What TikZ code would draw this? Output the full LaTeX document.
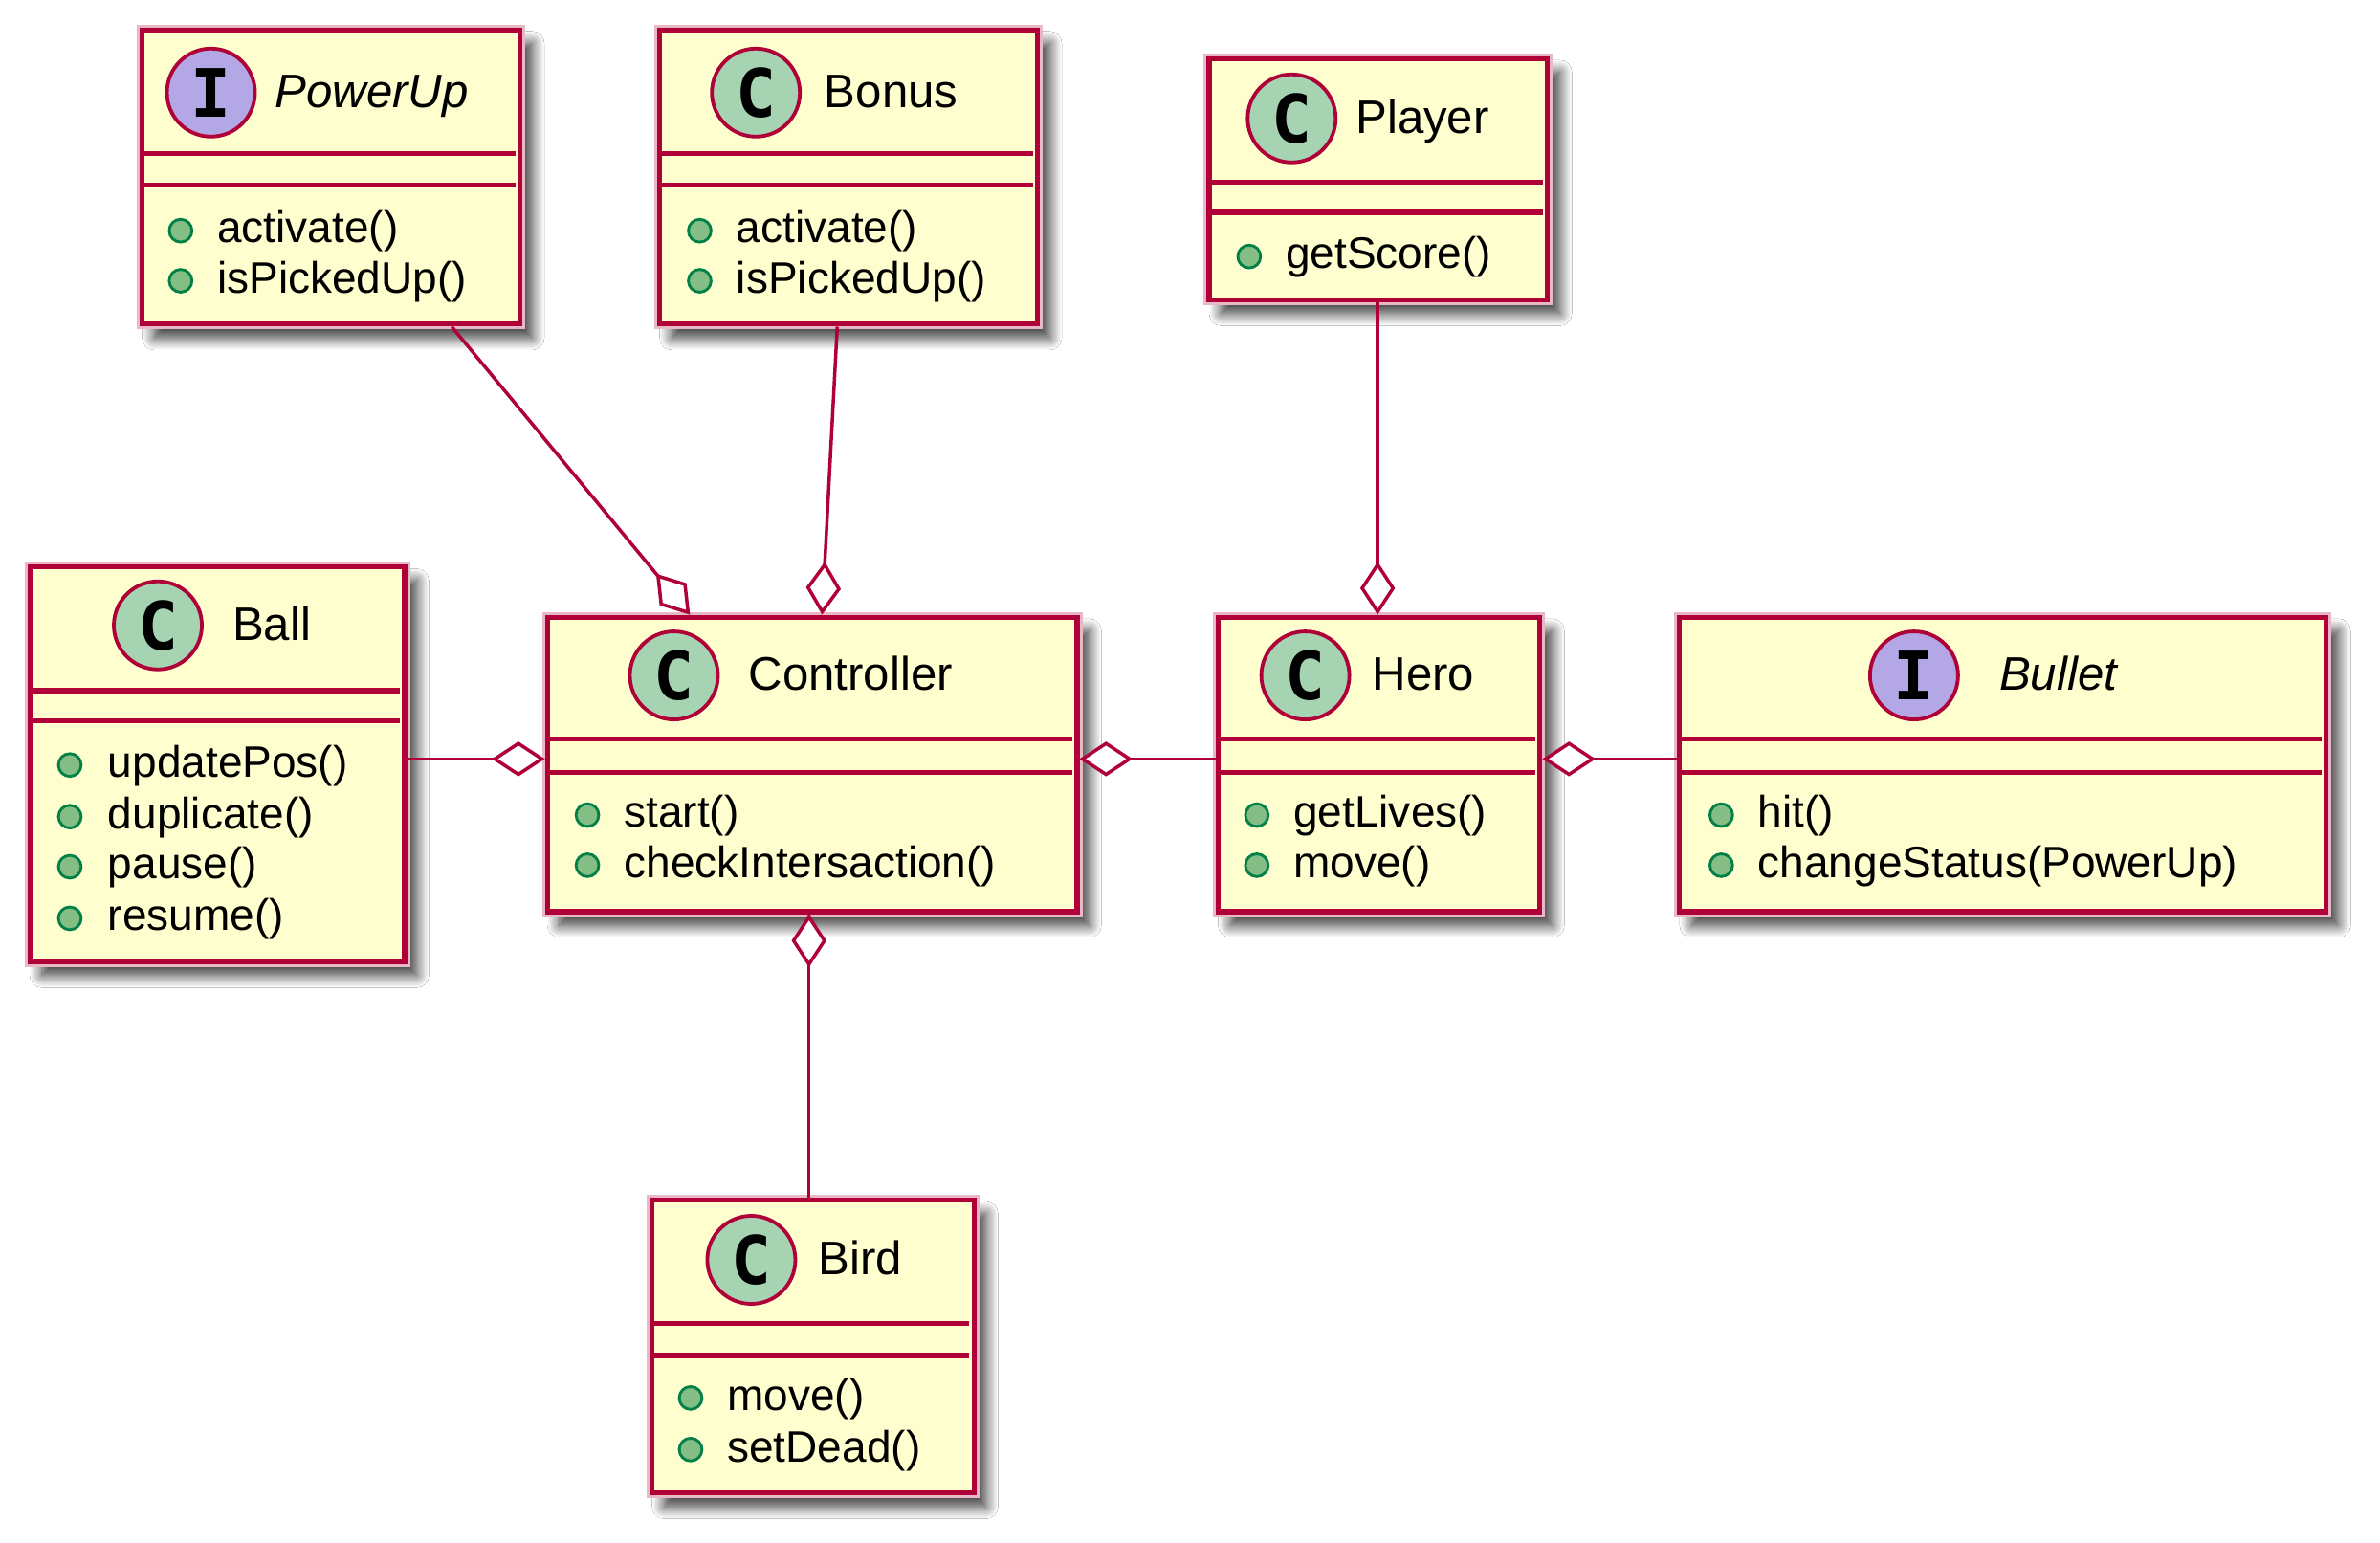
\documentclass[tikz,border=0pt]{standalone}
\usepackage{fontspec}
\setmainfont{Liberation Sans}
\newfontfamily\iconfont{DejaVu Sans Mono}
\usetikzlibrary{arrows.meta,shadows.blur}
\definecolor{umlred}{HTML}{B00038}
\definecolor{umlfill}{HTML}{FEFECE}
\definecolor{cgreen}{HTML}{A6D3B1}
\definecolor{ipurple}{HTML}{B4A7E5}
\definecolor{dotfill}{HTML}{84BE84}
\definecolor{dotline}{HTML}{038048}
\tikzset{
  box/.style={draw=umlred, fill=umlfill, line width=3.2pt, inner sep=0pt,
    blur shadow={shadow xshift=8pt, shadow yshift=-9pt, shadow blur steps=14, shadow blur radius=8pt, shadow opacity=80},
    preaction={draw=umlred!28, line width=7pt}},
  sepline/.style={draw=umlred, line width=3.4pt},
  ico/.style={circle, draw=umlred, line width=2.4pt, minimum size=58pt, inner sep=0pt},
  cico/.style={ico, fill=cgreen},
  iico/.style={ico, fill=ipurple},
  icotext/.style={font=\iconfont\bfseries\fontsize{44}{44}\selectfont},
  cname/.style={anchor=base west, inner sep=0pt, font=\fontsize{31}{31}\selectfont},
  iname/.style={cname, font=\fontsize{31}{31}\selectfont\itshape},
  mdot/.style={circle, draw=dotline, fill=dotfill, line width=1.8pt, minimum size=15pt, inner sep=0pt},
  mtext/.style={anchor=base west, inner sep=0pt, font=\fontsize{29}{29}\selectfont},
  agg/.style={draw=umlred, line width=2.2pt, -{Diamond[open, fill=white, length=35pt, width=23pt, line width=2.2pt]}},
}
\begin{document}
\begin{tikzpicture}[x=1pt,y=-1pt]
\useasboundingbox[fill=white] (0,0) rectangle (1568,1016.5);

% ---------- PowerUp ----------
\node[box, anchor=north west, minimum width=249pt, minimum height=194pt] (powerup) at (92,18) {};
\draw[sepline] (93.5,101) -- (339.5,101);
\draw[sepline] (93.5,122) -- (339.5,122);
\node[iico] (powerupi) at (139,61) {};
\node[icotext] at (powerupi) {I};
\node[iname] (powerupn) at (181,71) {PowerUp};
\node[mdot] (pu1) at (119,152) {};
\node[mtext] at (143,160) {activate()};
\node[mdot] (pu2) at (119,185) {};
\node[mtext] at (143,193) {isPickedUp()};

% ---------- Bonus ----------
\node[box, anchor=north west, minimum width=249pt, minimum height=194pt] (bonus) at (433,18) {};
\draw[sepline] (434.5,101) -- (680.5,101);
\draw[sepline] (434.5,122) -- (680.5,122);
\node[cico] (bonusi) at (498,61) {};
\node[icotext] at (bonusi) {C};
\node[cname] (bonusn) at (543,71) {Bonus};
\node[mdot] (bo1) at (461,152) {};
\node[mtext] at (485,160) {activate()};
\node[mdot] (bo2) at (461,185) {};
\node[mtext] at (485,193) {isPickedUp()};

% ---------- Player ----------
\node[box, anchor=north west, minimum width=223pt, minimum height=159pt] (player) at (795,37) {};
\draw[sepline] (796.5,120) -- (1016.5,120);
\draw[sepline] (796.5,140) -- (1016.5,140);
\node[cico] (playeri) at (851,78) {};
\node[icotext] at (playeri) {C};
\node[cname] (playern) at (893,88) {Player};
\node[mdot] (pl1) at (823,169) {};
\node[mtext] at (847,177) {getScore()};

% ---------- Ball ----------
\node[box, anchor=north west, minimum width=247pt, minimum height=260pt] (ball) at (18,372) {};
\draw[sepline] (19.5,455) -- (263.5,455);
\draw[sepline] (19.5,475) -- (263.5,475);
\node[cico] (balli) at (104,412) {};
\node[icotext] at (balli) {C};
\node[cname] (balln) at (153,422) {Ball};
\node[mdot] (ba1) at (46,504) {};
\node[mtext] at (71,512) {updatePos()};
\node[mdot] (ba2) at (46,538) {};
\node[mtext] at (71,546) {duplicate()};
\node[mdot] (ba3) at (46,571) {};
\node[mtext] at (71,579) {pause()};
\node[mdot] (ba4) at (46,605) {};
\node[mtext] at (71,613) {resume()};

% ---------- Controller ----------
\node[box, anchor=north west, minimum width=349pt, minimum height=194pt] (ctrl) at (359,405) {};
\draw[sepline] (360.5,487) -- (706.5,487);
\draw[sepline] (360.5,509) -- (706.5,509);
\node[cico] (ctrli) at (444,445) {};
\node[icotext] at (ctrli) {C};
\node[cname] (ctrln) at (493,455) {Controller};
\node[mdot] (ct1) at (387,537) {};
\node[mtext] at (411,545) {start()};
\node[mdot] (ct2) at (387,570) {};
\node[mtext] at (411,578) {checkIntersaction()};

% ---------- Hero ----------
\node[box, anchor=north west, minimum width=212pt, minimum height=194pt] (hero) at (801,405) {};
\draw[sepline] (802.5,487) -- (1011.5,487);
\draw[sepline] (802.5,509) -- (1011.5,509);
\node[cico] (heroi) at (860,445) {};
\node[icotext] at (heroi) {C};
\node[cname] (heron) at (904,455) {Hero};
\node[mdot] (he1) at (828,537) {};
\node[mtext] at (852,545) {getLives()};
\node[mdot] (he2) at (828,570) {};
\node[mtext] at (852,578) {move()};

% ---------- Bullet ----------
\node[box, anchor=north west, minimum width=426pt, minimum height=194pt] (bullet) at (1105,405) {};
\draw[sepline] (1106.5,487) -- (1529.5,487);
\draw[sepline] (1106.5,509) -- (1529.5,509);
\node[iico] (bulleti) at (1261,445) {};
\node[icotext] at (bulleti) {I};
\node[iname] (bulletn) at (1317,455) {Bullet};
\node[mdot] (bu1) at (1134,537) {};
\node[mtext] at (1158,545) {hit()};
\node[mdot] (bu2) at (1134,570) {};
\node[mtext] at (1158,578) {changeStatus(PowerUp)};

% ---------- Bird ----------
\node[box, anchor=north west, minimum width=212pt, minimum height=193pt] (bird) at (428,789) {};
\draw[sepline] (429.5,872) -- (638.5,872);
\draw[sepline] (429.5,893) -- (638.5,893);
\node[cico] (birdi) at (495,830) {};
\node[icotext] at (birdi) {C};
\node[cname] (birdn) at (539,840) {Bird};
\node[mdot] (bi1) at (455,921) {};
\node[mtext] at (479,929) {move()};
\node[mdot] (bi2) at (455,955) {};
\node[mtext] at (479,963) {setDead()};

% ---------- connectors ----------
\draw[agg] ([xshift=79.5pt]powerup.south) -- ([xshift=-80.5pt]ctrl.north);
\draw[agg] ([xshift=-7.5pt]bonus.south) -- ([xshift=6.5pt]ctrl.north);
\draw[agg] ([xshift=-0.5pt]player.south) -- ([xshift=-1pt]hero.north);
\draw[agg] (ball.east |- 0,500) -- (ctrl.west |- 0,500);
\draw[agg] (hero.west |- 0,500) -- (ctrl.east |- 0,500);
\draw[agg] (bullet.west |- 0,500) -- (hero.east |- 0,500);
\draw[agg] (bird.north -| 533,0) -- (ctrl.south -| 533,0);
\end{tikzpicture}
\end{document}
